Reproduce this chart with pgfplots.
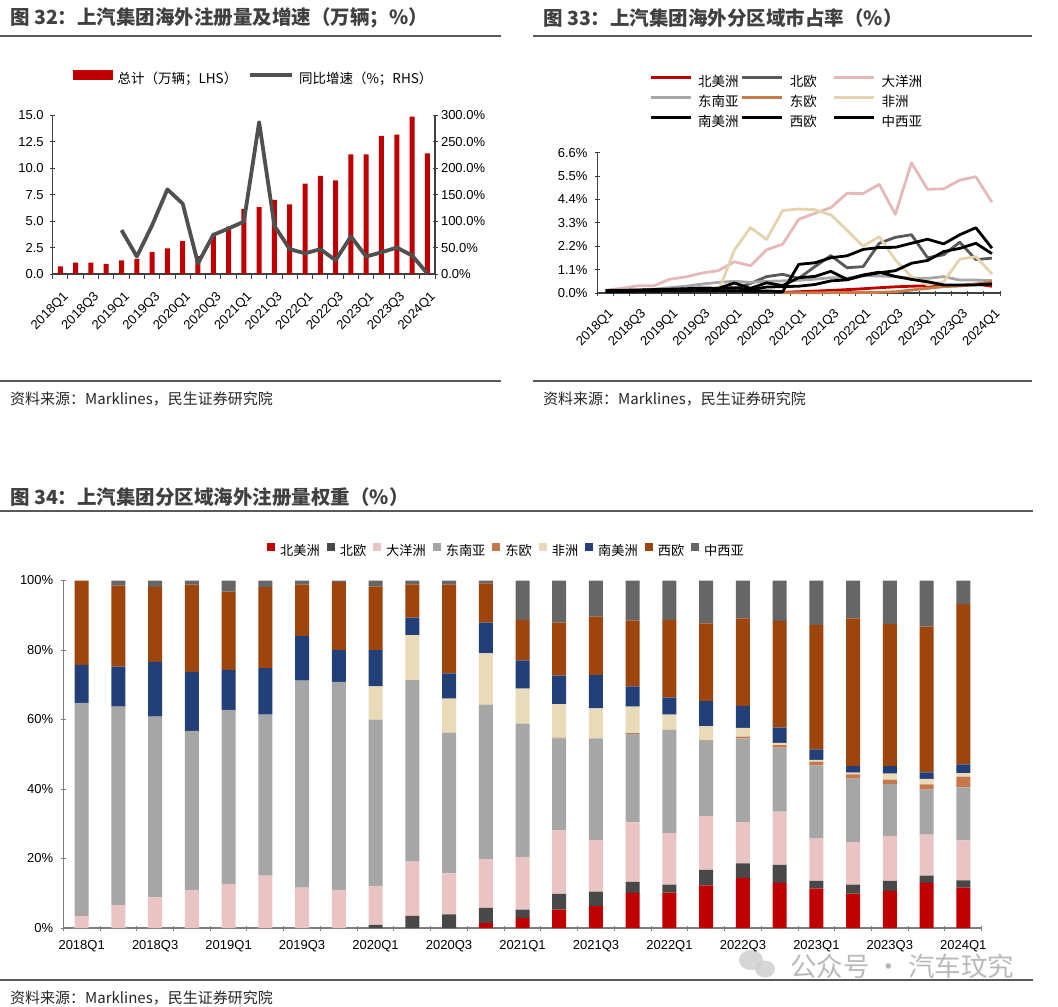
\documentclass[border=0pt]{standalone}
\usepackage{fontspec}
\setmainfont{Liberation Sans}
\newfontfamily\cjk{Noto Sans CJK SC}
\usepackage{pgfplots}
\usepackage{pgfplotstable}
\pgfplotsset{compat=1.18}

\definecolor{ttl}{HTML}{404040}
\definecolor{rulec}{HTML}{595959}
\definecolor{axd}{HTML}{404040}
\definecolor{axl}{HTML}{7F7F7F}
\definecolor{cred}{HTML}{C00000}
\definecolor{cline}{HTML}{505050}
\definecolor{cne}{HTML}{595959}
\definecolor{coce}{HTML}{E6B9B8}
\definecolor{csea}{HTML}{A6A6A6}
\definecolor{cee}{HTML}{C67B48}
\definecolor{cafr}{HTML}{E4D3AD}
\definecolor{bne}{HTML}{484848}
\definecolor{boce}{HTML}{EAC3C3}
\definecolor{bsea}{HTML}{A6A6A6}
\definecolor{bee}{HTML}{C5784A}
\definecolor{bafr}{HTML}{E9DAB8}
\definecolor{bsa}{HTML}{223F78}
\definecolor{bwe}{HTML}{9E450D}
\definecolor{bcwa}{HTML}{666666}

\newcommand\fs[1]{\fontsize{#1}{#1}\selectfont}

% share by region, 2018Q1..2024Q1 (x = 0..24)
\pgfplotstableread{
x  na   ne  oce  sea  ee  afr  sa   we   cwa
0  0    0   3.4  61.4 0   0    10.9 24.3 0
1  0    0   6.6  57.1 0   0    11.5 23.3 1.5
2  0    0   8.8  52.0 0   0    15.8 21.6 1.8
3  0    0   11.0 45.7 0   0    17.0 25.1 1.2
4  0    0   12.7 50.1 0   0    11.5 22.5 3.2
5  0    0   15.1 46.3 0   0    13.4 23.3 1.9
6  0    0   11.6 59.6 0   0    12.9 14.7 1.2
7  0    0   11.0 59.8 0   0    9.2  19.5 0.5
8  0    0.9 11.2 47.9 0   9.5  10.5 18.3 1.7
9  0    3.5 15.6 52.2 0   13.0 5.0  9.6  1.1
10 0    3.9 11.8 40.5 0   9.8  7.3  25.5 1.2
11 1.4  4.4 14.0 44.5 0   14.7 8.9  11.3 0.8
12 2.9  2.4 15.2 38.3 0   10.1 8.1  11.7 11.3
13 5.3  4.5 18.4 26.4 0.2 9.6  8.2  15.3 12.1
14 6.3  4.2 14.8 29.3 0   8.6  9.6  16.8 10.4
15 10.1 3.2 17.1 25.5 0.2 7.6  5.8  19.0 11.5
16 10.2 2.3 14.8 29.7 0   4.4  4.9  22.4 11.3
17 12.3 4.4 15.5 21.7 0.2 4.0  7.2  22.4 12.3
18 14.4 4.2 11.9 24.1 0.5 2.5  6.3  25.2 10.9
19 13.0 5.2 15.3 18.4 0.7 0.7  4.4  30.7 11.6
20 11.3 2.3 12.1 21.1 1.1 0.5  3.0  35.8 12.8
21 9.9  2.6 12.2 18.3 1.2 0.5  1.9  42.5 10.9
22 10.7 2.9 12.9 14.9 1.3 1.7  2.2  40.9 12.5
23 13.0 2.1 11.8 12.9 1.5 1.6  1.9  41.9 13.3
24 11.6 2.1 11.5 15.3 3.1 1.0  2.5  46.1 6.8
}\wtab

\pgfplotsset{
  base/.style={scale only axis, anchor=south west, clip=false,
    xmin=-0.5, xmax=24.5, tick align=outside,
    major tick length=5pt, minor tick length=5pt,
    tick label style={font=\fs{13}, text=black},
    xtick={-0.5,0.5,...,24.5}, xticklabels={},
    extra x tick style={tick style={draw=none}},
  },
  qlabels/.style={extra x ticks={0,2,...,24},
    extra x tick labels={2018Q1,2018Q3,2019Q1,2019Q3,2020Q1,2020Q3,2021Q1,2021Q3,2022Q1,2022Q3,2023Q1,2023Q3,2024Q1}},
  rotlabels/.style={xticklabel style={yshift=-7pt, xshift=2pt, rotate=45, anchor=north east}},
  sqleg/.style={legend image code/.code={\fill[##1] (0pt,1pt) rectangle (8pt,9pt);}},
  lineleg/.style={legend image code/.code={\draw[##1] (0pt,5pt) -- (#1,5pt);}},
  barleg/.style={legend image code/.code={\fill[cred] (0pt,0.5pt) rectangle (39pt,9.5pt);}},
}

\begin{document}
\begin{tikzpicture}[x=1pt,y=1pt]
\useasboundingbox (0,0) rectangle (1058,-1007);

% titles, rules, sources
\node[anchor=west, inner sep=0, text=ttl, font=\cjk\bfseries\fs{19.5}] at (10,-18) {图 32：上汽集团海外注册量及增速（万辆；\%）};
\node[anchor=west, inner sep=0, text=ttl, font=\cjk\bfseries\fs{19.5}] at (543,-18) {图 33：上汽集团海外分区域市占率（\%）};
\node[anchor=west, inner sep=0, text=ttl, font=\cjk\bfseries\fs{19.5}] at (10,-497) {图 34：上汽集团分区域海外注册量权重（\%）};
\draw[rulec, line width=1.6pt] (0,-36) -- (501,-36) (533,-36) -- (1032,-36);
\draw[rulec, line width=1.6pt] (0,-381) -- (501,-381) (533,-381) -- (1032,-381);
\draw[rulec, line width=1.6pt] (0,-510.7) -- (1033,-510.7) (0,-980) -- (1033,-980);
\node[anchor=west, inner sep=0, text=black!85, font=\cjk\fs{15}] at (10,-399) {资料来源：Marklines，民生证券研究院};
\node[anchor=west, inner sep=0, text=black!85, font=\cjk\fs{15}] at (543,-399) {资料来源：Marklines，民生证券研究院};
\node[anchor=west, inner sep=0, text=black!85, font=\cjk\fs{15}] at (10,-998) {资料来源：Marklines，民生证券研究院};
% watermark
\fill[gray!40, opacity=0.8] (751,-960) ellipse (12 and 10);
\fill[gray!40, opacity=0.8] (765,-969) ellipse (10 and 8.5);
\node[anchor=west, inner sep=0, text=gray!55, font=\cjk\fs{26.5}] at (790,-966) {公众号 · 汽车玟究};

% ---- chart 32: bars on the left axis
\begin{axis}[base, qlabels, rotlabels, at={(52.7pt,-274pt)}, width=382.3pt, height=158.7pt,
  ymin=0, ymax=15,
  axis x line=bottom, axis y line=left,
  axis line style={-, draw=axd, line width=1.2pt}, tick style={draw=axd, line width=1pt},
  yticklabel style={xshift=-3pt},
  ytick={0,2.5,...,15}, yticklabels={0.0,2.5,5.0,7.5,10.0,12.5,15.0},
  ybar, bar width=5pt]
\addplot[fill=cred, draw=none] coordinates {
 (0,0.72) (1,1.07) (2,1.07) (3,0.95) (4,1.30) (5,1.42) (6,2.08) (7,2.42) (8,3.10)
 (9,1.68) (10,3.62) (11,4.48) (12,6.15) (13,6.33) (14,7.00) (15,6.59) (16,8.54)
 (17,9.27) (18,8.86) (19,11.31) (20,11.31) (21,13.05) (22,13.17) (23,14.88) (24,11.41)};
\end{axis}
% ---- chart 32: growth on the right axis
\begin{axis}[base, at={(52.7pt,-274pt)}, width=382.3pt, height=158.7pt,
  ymin=0, ymax=300,
  axis x line=none, axis y line=right, xtick=\empty,
  axis line style={-, draw=axd, line width=1.2pt}, tick style={draw=axd, line width=1pt},
  ytick={0,50,...,300}, yticklabels={0.0\%,50.0\%,100.0\%,150.0\%,200.0\%,250.0\%,300.0\%},
  legend columns=2,
  legend style={at={(axis description cs:0.053,1.232)}, anchor=west, draw=none, fill=none,
    inner sep=0pt, font=\cjk\fs{13.5},
    nodes={inner sep=0pt, text height=10pt, text depth=3pt},
    /tikz/every odd column/.append style={column sep=5pt},
    /tikz/every even column/.append style={column sep=11pt}}]
\addlegendimage{barleg}
\addlegendentry{总计（万辆；LHS）}
\addplot[draw=cline, line width=3.8pt, line join=round, lineleg=42pt] coordinates {
 (4,83) (5,33) (6,92) (7,160) (8,133) (9,20) (10,74) (11,86) (12,99) (13,287)
 (14,91) (15,47) (16,39) (17,47) (18,26) (19,71) (20,33) (21,41) (22,50) (23,35) (24,1)};
\addlegendentry{同比增速（\%；RHS）}
\end{axis}

% ---- chart 33: market share lines
\begin{axis}[base, qlabels, rotlabels, at={(597.5pt,-293pt)}, width=402.5pt, height=140.3pt,
  ymin=0, ymax=6.6,
  axis x line=bottom, axis y line=left,
  axis line style={-, draw=axd, line width=1.2pt}, tick style={draw=axd, line width=1pt},
  yticklabel style={xshift=-4pt},
  ytick={0,1.1,2.2,3.3,4.4,5.5,6.6}, yticklabels={0.0\%,1.1\%,2.2\%,3.3\%,4.4\%,5.5\%,6.6\%},
  every axis plot/.append style={line width=2.8pt, line join=round},
  lineleg=40pt,
  legend columns=3,
  legend style={at={(axis description cs:0.128,1.547)}, anchor=north west, draw=none, fill=none,
    inner sep=0pt, font=\cjk\fs{13.5}, row sep=7pt,
    nodes={inner sep=0pt, text height=10pt, text depth=3pt},
    /tikz/every odd column/.append style={column sep=6pt}}]
\addplot[cred] coordinates {(11,0.03) (12,0.06) (13,0.09) (14,0.12) (15,0.16) (16,0.20) (17,0.25)
 (18,0.29) (19,0.32) (20,0.34) (21,0.35) (22,0.35) (23,0.42) (24,0.32)};
\addlegendentry{\makebox[43pt][l]{北美洲}}
\addplot[cne] coordinates {(7,0.05) (8,0.2) (9,0.45) (10,0.77) (11,0.88) (12,0.69) (13,1.24)
 (14,1.76) (15,1.19) (16,1.24) (17,2.34) (18,2.62) (19,2.74) (20,1.66) (21,1.80) (22,2.39) (23,1.57) (24,1.64)};
\addlegendentry{\makebox[43pt][l]{北欧}}
\addplot[coce] coordinates {(0,0.13) (1,0.22) (2,0.34) (3,0.34) (4,0.65) (5,0.76) (6,0.94) (7,1.05)
 (8,1.47) (9,1.28) (10,2.03) (11,2.30) (12,3.47) (13,3.75) (14,4.02) (15,4.69) (16,4.68) (17,5.11)
 (18,3.70) (19,6.13) (20,4.88) (21,4.90) (22,5.31) (23,5.47) (24,4.27)};
\addlegendentry{\makebox[43pt][l]{大洋洲}}
\addplot[csea] coordinates {(0,0.10) (1,0.12) (2,0.15) (3,0.18) (4,0.25) (5,0.32) (6,0.42) (7,0.50)
 (8,0.55) (9,0.50) (10,0.55) (11,0.57) (12,0.60) (13,0.65) (14,0.72) (15,0.70) (16,0.82) (17,0.80)
 (18,0.77) (19,0.69) (20,0.69) (21,0.77) (22,0.61) (23,0.61) (24,0.58)};
\addlegendentry{\makebox[43pt][l]{东南亚}}
\addplot[cee] coordinates {(11,0.01) (12,0.01) (13,0.01) (14,0.02) (15,0.02) (16,0.02) (17,0.03)
 (18,0.06) (19,0.14) (20,0.22) (21,0.30) (22,0.33) (23,0.42) (24,0.53)};
\addlegendentry{\makebox[43pt][l]{东欧}}
\addplot[cafr] coordinates {(7,0.05) (8,2.02) (9,3.08) (10,2.52) (11,3.88) (12,3.95) (13,3.92)
 (14,3.67) (15,2.96) (16,2.20) (17,2.65) (18,1.56) (19,0.77) (20,0.38) (21,0.53) (22,1.59) (23,1.71) (24,0.90)};
\addlegendentry{\makebox[43pt][l]{非洲}}
\addplot[black] coordinates {(0,0.12) (1,0.13) (2,0.14) (3,0.16) (4,0.18) (5,0.20) (6,0.24) (7,0.22)
 (8,0.47) (9,0.22) (10,0.48) (11,0.35) (12,0.72) (13,0.78) (14,1.02) (15,0.64) (16,0.85) (17,0.98)
 (18,0.78) (19,0.64) (20,0.53) (21,0.38) (22,0.38) (23,0.38) (24,0.43)};
\addlegendentry{\makebox[43pt][l]{南美洲}}
\addplot[black] coordinates {(0,0.08) (1,0.10) (2,0.12) (3,0.14) (4,0.16) (5,0.18) (6,0.20) (7,0.22)
 (8,0.25) (9,0.15) (10,0.28) (11,0.30) (12,0.32) (13,0.40) (14,0.57) (15,0.62) (16,0.82) (17,0.95)
 (18,1.05) (19,1.40) (20,1.53) (21,1.95) (22,2.10) (23,2.34) (24,1.85)};
\addlegendentry{\makebox[43pt][l]{西欧}}
\addplot[black] coordinates {(0,0.06) (1,0.07) (2,0.08) (3,0.08) (4,0.10) (5,0.10) (6,0.10) (7,0.10)
 (8,0.10) (9,0.08) (10,0.10) (11,0.06) (12,1.35) (13,1.42) (14,1.66) (15,1.75) (16,2.05) (17,2.14)
 (18,2.15) (19,2.34) (20,2.53) (21,2.31) (22,2.74) (23,3.07) (24,2.11)};
\addlegendentry{\makebox[43pt][l]{中西亚}}
\end{axis}

% ---- chart 34: stacked weights
\begin{axis}[base, qlabels, at={(63.3pt,-928pt)}, width=918.4pt, height=347.5pt,
  ymin=0, ymax=100,
  axis x line=bottom, axis y line=left,
  axis line style={-, draw=axl, line width=1.3pt}, tick style={draw=axl, line width=1pt},
  xticklabel style={anchor=north, yshift=-6pt},
  yticklabel style={xshift=-4pt},
  ytick={0,20,...,100}, yticklabels={0\%,20\%,40\%,60\%,80\%,100\%},
  ybar stacked, bar width=14pt,
  legend columns=9,
  legend style={at={(axis description cs:0.2218,1.0863)}, anchor=west, draw=none, fill=none,
    inner sep=0pt, font=\cjk\fs{13.2},
    nodes={inner sep=0pt, text height=10pt, text depth=3pt},
    /tikz/every odd column/.append style={column sep=5pt},
    /tikz/every even column/.append style={column sep=7pt}}]
\addplot[sqleg, fill=cred, draw=none] table[x=x, y=na] {\wtab};
\addlegendentry{北美洲}
\addplot[sqleg, fill=bne, draw=none] table[x=x, y=ne] {\wtab};
\addlegendentry{北欧}
\addplot[sqleg, fill=boce, draw=none] table[x=x, y=oce] {\wtab};
\addlegendentry{大洋洲}
\addplot[sqleg, fill=bsea, draw=none] table[x=x, y=sea] {\wtab};
\addlegendentry{东南亚}
\addplot[sqleg, fill=bee, draw=none] table[x=x, y=ee] {\wtab};
\addlegendentry{东欧}
\addplot[sqleg, fill=bafr, draw=none] table[x=x, y=afr] {\wtab};
\addlegendentry{非洲}
\addplot[sqleg, fill=bsa, draw=none] table[x=x, y=sa] {\wtab};
\addlegendentry{南美洲}
\addplot[sqleg, fill=bwe, draw=none] table[x=x, y=we] {\wtab};
\addlegendentry{西欧}
\addplot[sqleg, fill=bcwa, draw=none] table[x=x, y=cwa] {\wtab};
\addlegendentry{中西亚}
\end{axis}
\end{tikzpicture}
\end{document}
